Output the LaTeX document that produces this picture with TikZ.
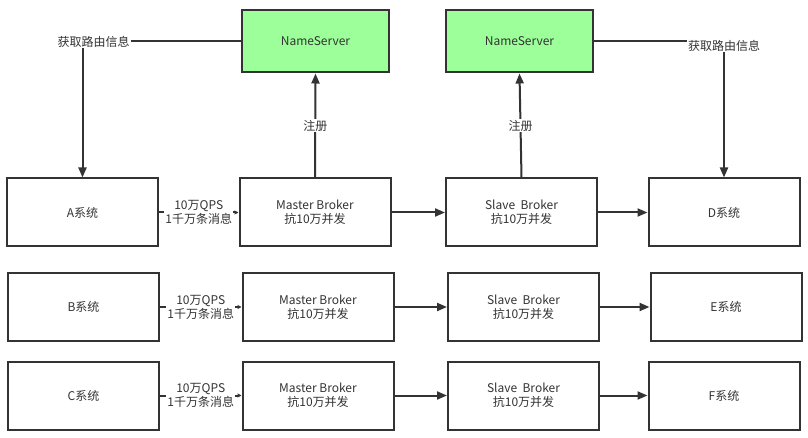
\documentclass[tikz,border=0pt]{standalone}
\usepackage{fontspec}
\setmainfont{Noto Sans CJK SC}
\usepackage{tikz}
\usetikzlibrary{positioning}
\usetikzlibrary{arrows.meta}
\definecolor{linegray}{HTML}{333333}
\definecolor{nsgreen}{HTML}{9CFF99}

\begin{document}
\begin{tikzpicture}[x=1pt,y=1pt,node distance=100pt,on grid,font=\fontsize{12}{14}\selectfont]
			\tikzset{box/.style={draw=linegray,line width=2pt,fill=white,text=linegray,minimum width=151pt,minimum height=68pt,align=center,inner sep=0pt}}
			\tikzset{nsbox/.style={box,fill=nsgreen,minimum width=147pt,minimum height=62pt}}
			\tikzset{lbl/.style={fill=white,text=linegray,align=center,inner sep=1pt}}
			\tikzset{flow/.style={draw=linegray,line width=2pt,-{Triangle[length=10pt,width=8pt]}}}
			\tikzset{tiny/.style={draw=linegray,line width=2pt,-{Triangle[length=4pt,width=4pt]}}}
			\useasboundingbox (0,0) rectangle (808,-438);
			% Place Nodes
			\node[box] (A) at (82.5,-212.5) {A系统};
			\node[box] (MA) [right=232.5pt of A] {Master Broker\\抗10万并发};
			\node[box] (SA) [right=206.5pt of MA] {Slave~~Broker\\抗10万并发};
			\node[box] (D) [right=202.5pt of SA] {D系统};
			\node[box] (B) at (83.5,-307) {B系统};
			\node[box] (MB) [right=234.5pt of B] {Master Broker\\抗10万并发};
			\node[box] (SB) [right=205.5pt of MB] {Slave~~Broker\\抗10万并发};
			\node[box] (E) [right=202.5pt of SB] {E系统};
			\node[box] (C) at (83.5,-395.5) {C系统};
			\node[box] (MC) [right=234.5pt of C] {Master Broker\\抗10万并发};
			\node[box] (SC) [right=205.5pt of MC] {Slave~~Broker\\抗10万并发};
			\node[box] (F) [right=200.5pt of SC] {F系统};
			\node[nsbox] (NS1) at (315.5,-41.5) {NameServer};
			\node[nsbox] (NS2) at (519.5,-41.5) {NameServer};
			% Routing lookups
			\draw[flow] (NS1.west) -| node[lbl,pos=0.5,xshift=11pt] {获取路由信息} (A.north);
			\draw[flow] (NS2.east) -| node[lbl,pos=0.5,yshift=-4pt] {获取路由信息} (D.north);
			% Registration
			\draw[flow] (MA.north) -- node[lbl,pos=0.5] {注册} (NS1.south);
			\draw[flow] (SA.north) -- node[lbl,pos=0.5] {注册} (NS2.south);
			% Message flow
			\path
			(A) edge[tiny] node[lbl,pos=0.5] {10万QPS\\1千万条消息} (MA)
			(B) edge[tiny] node[lbl,pos=0.5] {10万QPS\\1千万条消息} (MB)
			(C) edge[tiny] node[lbl,pos=0.5] {10万QPS\\1千万条消息} (MC)
			(MA) edge[flow] (SA)
			(SA) edge[flow] (D)
			(MB) edge[flow] (SB)
			(SB) edge[flow] (E)
			(MC) edge[flow] (SC)
			(SC) edge[flow] (F);
\end{tikzpicture}
\end{document}
